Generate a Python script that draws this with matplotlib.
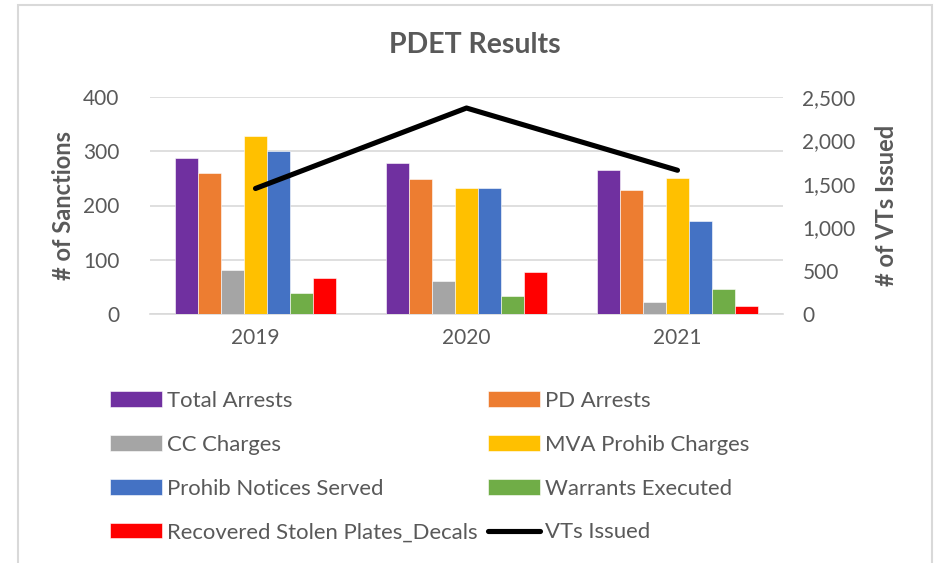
import numpy as np
import matplotlib
matplotlib.use("Agg")
import matplotlib.pyplot as plt
from matplotlib.patches import Rectangle

plt.rcParams['font.family'] = ['Lato', 'DejaVu Sans']

years = ["2019", "2020", "2021"]
series_names = ["Total Arrests", "PD Arrests", "CC Charges", "MVA Prohib Charges",
                "Prohib Notices Served", "Warrants Executed",
                "Recovered Stolen Plates_Decals"]
total_arrests = [288, 279, 265]
pd_arrests = [259, 248, 229]
cc_charges = [81, 61, 23]
mva_prohib = [329, 233, 250]
prohib_notices = [300, 233, 172]
warrants = [38, 33, 47]
stolen_plates = [67, 77, 15]
vts_issued = [1446, 2373, 1656]

colors = ["#7030A0", "#ED7D31", "#A5A5A5", "#FFC000", "#4472C4", "#70AD47", "#FF0000"]
grey_txt = "#595959"

fig = plt.figure(figsize=(9.37, 5.63), dpi=100)
ax = fig.add_axes([150 / 937, 1 - 314 / 563, 633 / 937, 217 / 563])
ax2 = ax.twinx()

x = np.arange(len(years))
bw = 0.76 / 7
all_series = [total_arrests, pd_arrests, cc_charges, mva_prohib,
              prohib_notices, warrants, stolen_plates]
for i, vals in enumerate(all_series):
    ax.bar(x + (i - 3) * bw, vals, bw, color=colors[i], edgecolor="white",
           linewidth=0.4, label=series_names[i], zorder=3)

ax2.plot(x, vts_issued, color="black", linewidth=3.7, solid_capstyle="round",
         label="VTs Issued", zorder=4)

ax.set_xlim(-0.5, 2.5)
ax.set_ylim(0, 400)
ax2.set_ylim(0, 2500)
ax.set_yticks([0, 100, 200, 300, 400])
ax2.set_yticks([0, 500, 1000, 1500, 2000, 2500])
ax2.set_yticklabels(["0", "500", "1,000", "1,500", "2,000", "2,500"])
ax.set_xticks(x)
ax.set_xticklabels(years)
ax.grid(axis="y", color="#D9D9D9", linewidth=1.2, zorder=0)
ax.set_axisbelow(True)
for a in (ax, ax2):
    for s in a.spines.values():
        s.set_visible(False)
    a.tick_params(length=0, labelsize=15, colors=grey_txt)
ax.tick_params(axis="y", pad=22)
ax.tick_params(axis="x", pad=10)
ax2.tick_params(axis="y", pad=14)
ax.spines["bottom"].set_visible(True)
ax.spines["bottom"].set_color("#D9D9D9")
ax.spines["bottom"].set_linewidth(1.2)

ax.set_ylabel("# of Sanctions", fontsize=17, fontweight="bold", color=grey_txt, labelpad=6)
ax2.set_ylabel("# of VTs Issued", fontsize=17, fontweight="bold", color=grey_txt, labelpad=14)

fig.text(475 / 937, 1 - 45 / 563, "PDET Results", ha="center", va="center",
         fontsize=20.5, fontweight="bold", color=grey_txt)

# legend in two columns, row-major
h_bars, l_bars = ax.get_legend_handles_labels()
h_line, l_line = ax2.get_legend_handles_labels()
handles = h_bars + h_line
labels = l_bars + l_line
order = [0, 2, 4, 6, 1, 3, 5, 7]
leg = fig.legend([handles[k] for k in order], [labels[k] for k in order],
                 loc="upper left", bbox_to_anchor=(90 / 937, 1 - 371 / 563),
                 ncol=2, frameon=False, fontsize=15.9, labelcolor=grey_txt,
                 handlelength=2.35, handleheight=0.7, handletextpad=0.25,
                 columnspacing=0.45, labelspacing=1.08)

fig.add_artist(Rectangle((18 / 937, -0.05), (932 - 18) / 937, 1.05 - 5 / 563,
                         transform=fig.transFigure, fill=False,
                         edgecolor="#D9D9D9", linewidth=1.5))

fig.savefig("out.png", dpi=100)
